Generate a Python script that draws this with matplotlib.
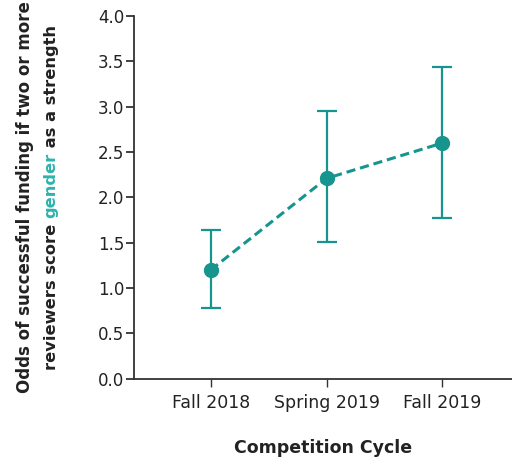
import matplotlib
matplotlib.use("Agg")
import matplotlib.pyplot as plt

# odds ratios and 95% CI per competition cycle
cycles = ["Fall 2018", "Spring 2019", "Fall 2019"]
odds = [1.20, 2.21, 2.60]
ci_low = [0.78, 1.51, 1.77]
ci_high = [1.64, 2.95, 3.44]

TEAL = "#16958f"
GENDER = "#2fb3ad"
INK = "#222222"

plt.rcParams["font.family"] = ["DejaVu Sans"]

fig = plt.figure(figsize=(5.12, 4.57), dpi=100)
ax = fig.add_axes([0.262, 0.171, 0.738, 0.794])

x = list(range(len(cycles)))
yerr = [[o - lo for o, lo in zip(odds, ci_low)],
        [hi - o for o, hi in zip(odds, ci_high)]]

ax.errorbar(x, odds, yerr=yerr, fmt="none", ecolor=TEAL, elinewidth=1.6,
            capsize=7, capthick=1.6, zorder=2)
ax.plot(x, odds, linestyle=(0, (3, 1.6)), color=TEAL, linewidth=2.2,
        marker="o", markersize=10, zorder=3)

ax.set_xlim(-0.66, 2.6)
ax.set_ylim(0, 4.0)
ax.set_yticks([0, 0.5, 1.0, 1.5, 2.0, 2.5, 3.0, 3.5, 4.0])
ax.set_yticklabels([f"{v:.1f}" for v in ax.get_yticks()])
ax.set_xticks(x)
ax.set_xticklabels(cycles)

for side in ("top", "right"):
    ax.spines[side].set_visible(False)
for side in ("left", "bottom"):
    ax.spines[side].set_linewidth(1.3)
    ax.spines[side].set_color("#333333")
ax.tick_params(axis="y", length=6, width=1.3, labelsize=12, pad=1, colors="#333333")
ax.tick_params(axis="x", length=6, width=1.0, labelsize=12.5, pad=5, colors="#333333")
for lab in ax.get_yticklabels() + ax.get_xticklabels():
    lab.set_color(INK)

ax.set_xlabel("Competition Cycle", fontsize=12.5, fontweight="bold", labelpad=19,
              color=INK)

# two-line y label, "gender" highlighted
ymid = 0.171 + 0.794 / 2
fig.text(0.049, ymid, "Odds of successful funding if two or more", rotation=90,
         ha="center", va="center", fontsize=12, fontweight="bold", color=INK)

parts = [("reviewers score ", INK), ("gender", GENDER), (" as a strength", INK)]
fig.canvas.draw()
renderer = fig.canvas.get_renderer()
pieces = []
heights = []
for txt, col in parts:
    t = fig.text(0.100, 0, txt, rotation=90, ha="center", va="bottom",
                 fontsize=11.7, fontweight="bold", color=col)
    h = t.get_window_extent(renderer).height / fig.bbox.height
    pieces.append(t)
    heights.append(h)
y0 = ymid - sum(heights) / 2
for t, h in zip(pieces, heights):
    t.set_y(y0)
    y0 += h

fig.savefig("out.png", dpi=100)
